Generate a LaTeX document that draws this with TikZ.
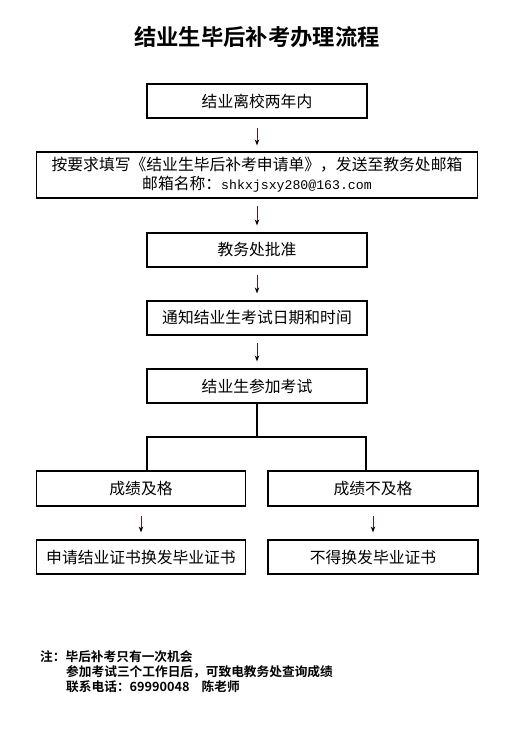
\documentclass[tikz,border=0pt]{standalone}
\usepackage{fontspec}
\setmainfont{Noto Sans CJK SC}
\newfontfamily\cjkbold{Noto Sans CJK SC Bold}
\newfontfamily\monofnt{Liberation Mono}
\usetikzlibrary{arrows.meta}
\definecolor{arrowred}{HTML}{5A1A2A}
\begin{document}
\begin{tikzpicture}[x=1pt,y=-1pt,
  box/.style={draw,line width=1.2pt,inner sep=0pt,font=\fontsize{15.8}{19}\selectfont},
  arr/.style={draw=arrowred,line width=0.8pt,-{Stealth[length=6pt,width=4.5pt,black]}},
  conn/.style={draw,line width=1.2pt}]
\useasboundingbox (0,0) rectangle (521,729);
\fill[white] (0,0) rectangle (521,729);
\node[font=\cjkbold\fontsize{22.3}{26}\selectfont] (title) at (257,37) {结业生毕后补考办理流程};
\node[box,minimum width=220pt,minimum height=34pt] (b1) at (257,101) {结业离校两年内};
\node[box,minimum width=441pt,minimum height=46pt,align=center] (b2) at (257,175)
 {按要求填写《结业生毕后补考申请单》，发送至教务处邮箱\\邮箱名称：{\monofnt\fontsize{13.2}{19}\selectfont shkxjsxy280@163.com}};
\node[box,minimum width=220pt,minimum height=34pt] (b3) at (257,250) {教务处批准};
\node[box,minimum width=220pt,minimum height=34pt] (b4) at (257,318) {通知结业生考试日期和时间};
\node[box,minimum width=220pt,minimum height=34pt] (b5) at (257,386) {结业生参加考试};
\node[box,minimum width=209pt,minimum height=35pt] (b6) at (141,488.5) {成绩及格};
\node[box,minimum width=210pt,minimum height=35pt] (b7) at (373,488.5) {成绩不及格};
\node[box,minimum width=209pt,minimum height=34pt] (b8) at (141,557) {申请结业证书换发毕业证书};
\node[box,minimum width=210pt,minimum height=34pt] (b9) at (373,557) {不得换发毕业证书};
\coordinate (j) at (257,437);
\draw[arr] ([yshift=-9pt]b1.south) -- ([yshift=6pt]b2.north);
\draw[arr] ([yshift=-7pt]b2.south) -- ([yshift=7pt]b3.north);
\draw[arr] ([yshift=-7pt]b3.south) -- ([yshift=7pt]b4.north);
\draw[arr] ([yshift=-7pt]b4.south) -- ([yshift=7pt]b5.north);
\draw[conn] (b5.south) -- (j);
\draw[conn] (j) -| (b6.north -| 147,0) ;
\draw[conn] (j) -| (b7.north -| 366,0);
\draw[arr] ([yshift=-9pt]b6.south) -- ([yshift=7pt]b8.north);
\draw[arr] ([yshift=-9pt]b7.south) -- ([yshift=7pt]b9.north);
\node[anchor=base west,font=\cjkbold\fontsize{12.7}{15.5}\selectfont,align=left,inner sep=0pt] (note) at (40,661)
 {注：毕后补考只有一次机会};
\node[anchor=north west,font=\cjkbold\fontsize{12.7}{15.5}\selectfont,align=left,inner sep=0pt] (note2) at (66,665)
 {参加考试三个工作日后，可致电教务处查询成绩\\联系电话：69990048\hspace{12pt}陈老师};
\end{tikzpicture}
\end{document}
